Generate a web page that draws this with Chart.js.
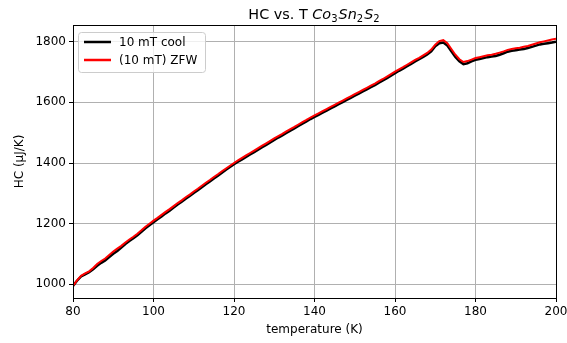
<!DOCTYPE html>
<html>
<head>
<meta charset="utf-8">
<script src="https://cdn.jsdelivr.net/npm/chart.js@4.4.1/dist/chart.umd.min.js"></script>
<style>
  html, body { margin: 0; padding: 0; background: #fff; }
  #wrap { width: 567px; height: 343px; }
</style>
</head>
<body>
<div id="wrap"><canvas id="c" width="567" height="343"></canvas></div>
<script>
// Temperature grid (K)
const temperature = [
  80, 81, 82, 83, 84, 85, 86, 87, 88, 89,
  90, 91, 92, 93, 94, 95, 96, 97, 98, 99,
  100, 101, 102, 103, 104, 105, 106, 107, 108, 109,
  110, 111, 112, 113, 114, 115, 116, 117, 118, 119,
  120, 121, 122, 123, 124, 125, 126, 127, 128, 129,
  130, 131, 132, 133, 134, 135, 136, 137, 138, 139,
  140, 141, 142, 143, 144, 145, 146, 147, 148, 149,
  150, 151, 152, 153, 154, 155, 156, 157, 158, 159,
  160, 161, 162, 163, 164, 165, 166, 167, 168, 169,
  170, 171, 172, 173, 174, 175, 176, 177, 178, 179,
  180, 181, 182, 183, 184, 185, 186, 187, 188, 189,
  190, 191, 192, 193, 194, 195, 196, 197, 198, 199,
  200
];

// Heat capacity, 10 mT field-cooled (µJ/K)
const hcCool = [
  995, 1012, 1026, 1033, 1040, 1050, 1061, 1071, 1079, 1090,
  1101, 1110, 1121, 1133, 1143, 1152, 1162, 1173, 1185, 1195,
  1205, 1215, 1224, 1234, 1243, 1253, 1263, 1272, 1282, 1291,
  1301, 1310, 1320, 1330, 1339, 1349, 1358, 1368, 1378, 1387,
  1396, 1404, 1412, 1420, 1428, 1436, 1444, 1452, 1460, 1468,
  1476, 1484, 1491, 1499, 1507, 1514, 1522, 1530, 1537, 1545,
  1552, 1559, 1566, 1573, 1580, 1587, 1594, 1601, 1608, 1615,
  1622, 1629, 1636, 1643, 1650, 1657, 1665, 1672, 1680, 1688,
  1696, 1704, 1711, 1719, 1727, 1735, 1742, 1750, 1758, 1768,
  1785, 1795, 1797, 1787, 1768, 1750, 1735, 1726, 1729, 1735,
  1740, 1743, 1746, 1749, 1751, 1753, 1757, 1762, 1767, 1770,
  1772, 1774, 1776, 1779, 1783, 1787, 1791, 1793, 1795, 1797,
  1800
];

// Heat capacity, zero-field warming after 10 mT (µJ/K)
const hcZfw = [
  995, 1013, 1028, 1036, 1043, 1054, 1067, 1077, 1085, 1097,
  1108, 1118, 1127, 1138, 1148, 1157, 1167, 1178, 1190, 1200,
  1210, 1219, 1229, 1239, 1248, 1258, 1268, 1277, 1287, 1296,
  1306, 1315, 1325, 1335, 1344, 1354, 1363, 1373, 1382, 1391,
  1400, 1409, 1417, 1425, 1433, 1441, 1449, 1457, 1465, 1473,
  1481, 1489, 1496, 1504, 1512, 1519, 1527, 1535, 1542, 1550,
  1557, 1564, 1571, 1578, 1585, 1592, 1599, 1606, 1613, 1620,
  1627, 1634, 1641, 1648, 1655, 1662, 1670, 1677, 1685, 1693,
  1701, 1709, 1716, 1724, 1732, 1740, 1747, 1755, 1763, 1774,
  1790, 1802, 1805, 1795, 1776, 1757, 1742, 1733, 1736, 1741,
  1746, 1749, 1752, 1755, 1757, 1760, 1764, 1768, 1773, 1776,
  1778, 1780, 1783, 1786, 1790, 1794, 1798, 1801, 1804, 1807,
  1810
];

const xTicks = [80, 100, 120, 140, 160, 180, 200];
const yTicks = [1000, 1200, 1400, 1600, 1800];

const seriesLabels = ['10 mT cool', '(10 mT) ZFW'];
const seriesColors = ['#000000', '#ff0000'];

const FONT = "'DejaVu Sans', sans-serif";
const TEXT_SIZE = 12;

function toPoints(xs, ys) {
  return xs.map((x, i) => ({ x: x, y: ys[i] }));
}

// Frame around the plot, title with chemical formula, and in-axes legend
const decorations = {
  id: 'decorations',
  afterDatasetsDraw(chart) {
    const { ctx, chartArea: a } = chart;
    ctx.save();
    ctx.strokeStyle = '#000';
    ctx.lineWidth = 1;
    ctx.strokeRect(Math.round(a.left) + 0.5, Math.round(a.top) + 0.5,
                   Math.round(a.right - a.left), Math.round(a.bottom - a.top));
    ctx.restore();
  },
  afterDraw(chart) {
    const { ctx, chartArea: a } = chart;
    ctx.save();
    // title: "HC vs. T Co3Sn2S2"
    const big = 14.4, small = 10;
    const parts = [
      { t: 'HC vs. T ', f: `${big}px ${FONT}`, dy: 0 },
      { t: 'Co', f: `italic ${big}px ${FONT}`, dy: 0 },
      { t: '3', f: `${small}px ${FONT}`, dy: 3 },
      { t: 'Sn', f: `italic ${big}px ${FONT}`, dy: 0 },
      { t: '2', f: `${small}px ${FONT}`, dy: 3 },
      { t: 'S', f: `italic ${big}px ${FONT}`, dy: 0 },
      { t: '2', f: `${small}px ${FONT}`, dy: 3 }
    ];
    let total = 0;
    parts.forEach(p => { ctx.font = p.f; p.w = ctx.measureText(p.t).width + (p.dy ? 1 : 0); total += p.w; });
    let x = (a.left + a.right) / 2 - total / 2;
    const baseY = 18.5;
    ctx.fillStyle = '#000';
    ctx.textBaseline = 'alphabetic';
    ctx.textAlign = 'left';
    parts.forEach(p => { ctx.font = p.f; ctx.fillText(p.t, x, baseY + p.dy); x += p.w; });

    // legend box
    const bx = a.left + 5, by = a.top + 7, bw = 127, bh = 40;
    ctx.fillStyle = 'rgba(255,255,255,0.8)';
    ctx.strokeStyle = '#cccccc';
    ctx.lineWidth = 1;
    ctx.beginPath();
    ctx.roundRect(bx + 0.5, by + 0.5, bw, bh, 3);
    ctx.fill();
    ctx.stroke();
    ctx.font = `${TEXT_SIZE}px ${FONT}`;
    ctx.textBaseline = 'middle';
    chart.data.datasets.forEach((ds, i) => {
      const ly = by + 10 + i * 18;
      ctx.strokeStyle = ds.borderColor;
      ctx.lineWidth = 2.5;
      ctx.beginPath();
      ctx.moveTo(bx + 6, ly);
      ctx.lineTo(bx + 33, ly);
      ctx.stroke();
      ctx.fillStyle = '#000';
      ctx.fillText(ds.label, bx + 41, ly + 0.5);
    });
    ctx.restore();
  }
};

new Chart(document.getElementById('c'), {
  type: 'line',
  data: {
    datasets: [
      {
        label: seriesLabels[0],
        data: toPoints(temperature, hcCool),
        borderColor: seriesColors[0],
        borderWidth: 2.5,
        pointRadius: 0,
        tension: 0,
        order: 1
      },
      {
        label: seriesLabels[1],
        data: toPoints(temperature, hcZfw),
        borderColor: seriesColors[1],
        borderWidth: 2,
        pointRadius: 0,
        tension: 0,
        order: 0
      }
    ]
  },
  options: {
    responsive: false,
    animation: false,
    devicePixelRatio: 1,
    layout: { padding: { left: 13, right: 11, top: 25, bottom: 0 } },
    plugins: {
      legend: { display: false },
      title: { display: false },
      tooltip: { enabled: false }
    },
    scales: {
      x: {
        type: 'linear',
        min: 80,
        max: 200,
        afterBuildTicks(scale) { scale.ticks = xTicks.map(v => ({ value: v })); },
        afterFit(scale) { scale.height = 45; scale.paddingRight = 0; scale.paddingLeft = 0; },
        grid: { color: '#b0b0b0', lineWidth: 1, tickColor: '#000', tickLength: 4, drawTicks: true },
        border: { display: true, color: '#000', width: 1 },
        ticks: { color: '#000', font: { family: FONT, size: TEXT_SIZE }, padding: 3, maxRotation: 0,
                 callback: v => String(v) },
        title: { display: true, text: 'temperature (K)', color: '#000', font: { family: FONT, size: TEXT_SIZE }, padding: { top: 2, bottom: 6 } }
      },
      y: {
        type: 'linear',
        min: 955,
        max: 1855,
        afterBuildTicks(scale) { scale.ticks = yTicks.map(v => ({ value: v })); },
        afterFit(scale) { scale.width = 60; scale.paddingTop = 0; scale.paddingBottom = 0; },
        grid: { color: '#b0b0b0', lineWidth: 1, tickColor: '#000', tickLength: 4, drawTicks: true },
        border: { display: true, color: '#000', width: 1 },
        ticks: { color: '#000', font: { family: FONT, size: TEXT_SIZE }, padding: 3,
                 callback: v => String(v) },
        title: { display: true, text: 'HC (μJ/K)', color: '#000', font: { family: FONT, size: TEXT_SIZE }, padding: { top: 0, bottom: 0 } }
      }
    }
  },
  plugins: [decorations]
});
</script>
</body>
</html>
